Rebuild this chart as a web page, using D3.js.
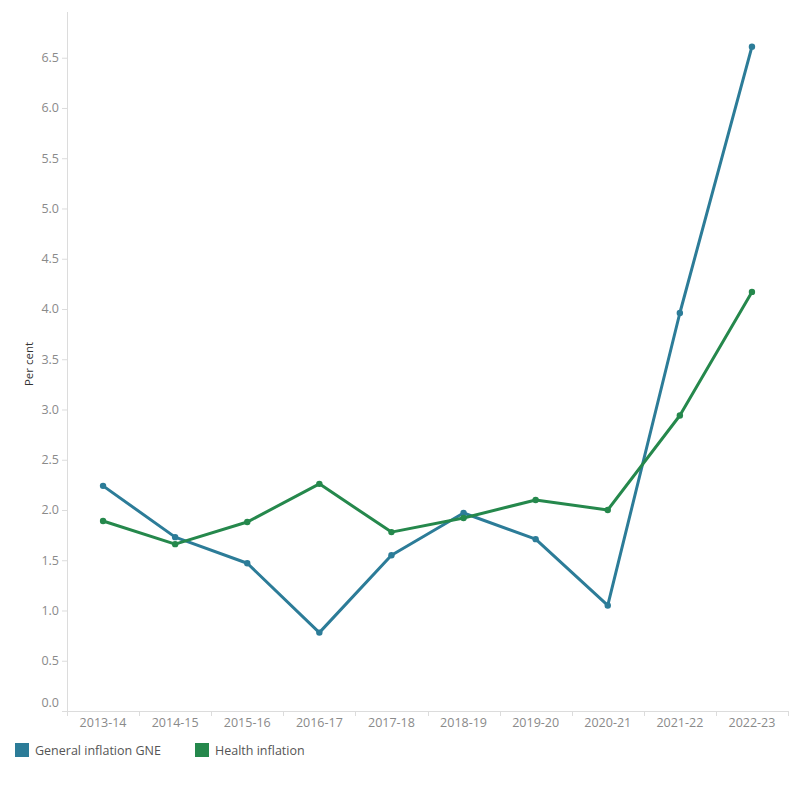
<!DOCTYPE html>
<html>
<head>
<meta charset="utf-8">
<script src="https://cdn.jsdelivr.net/npm/d3@7"></script>
<style>
  body { margin: 0; background: #fff; font-family: "Open Sans", sans-serif; }
  .axis text { fill: #8a8a8a; font-size: 12.5px; font-family: "Open Sans", sans-serif; }
  .axis line, .axis path { stroke: #dcdcdc; }
</style>
</head>
<body>
<svg id="chart" width="800" height="800"></svg>
<script>
const years = ["2013-14", "2014-15", "2015-16", "2016-17", "2017-18", "2018-19", "2019-20", "2020-21", "2021-22", "2022-23"];
const generalGNE = [2.24, 1.73, 1.47, 0.78, 1.55, 1.97, 1.71, 1.05, 3.96, 6.61];
const healthInflation = [1.89, 1.66, 1.88, 2.26, 1.78, 1.92, 2.10, 2.00, 2.94, 4.17];
const yTicks = [0, 0.5, 1, 1.5, 2, 2.5, 3, 3.5, 4, 4.5, 5, 5.5, 6, 6.5];

const series = [
  { name: "General inflation GNE", values: generalGNE, color: "#2c7c98" },
  { name: "Health inflation", values: healthInflation, color: "#25884c" }
];

const svg = d3.select("#chart");
const plotLeft = 67, plotRight = 788, plotTop = 12, plotBottom = 711;

const x = d3.scaleBand().domain(years).range([plotLeft, plotRight]);
const y = d3.scaleLinear().domain([0, 6.955]).range([plotBottom, plotTop]);

// x axis
const xAxis = svg.append("g")
  .attr("class", "axis")
  .attr("transform", `translate(0,${plotBottom})`)
  .call(d3.axisBottom(x).tickSize(0).tickPadding(7));
xAxis.select(".domain").remove();
xAxis.append("line")
  .attr("x1", plotLeft).attr("x2", plotRight)
  .attr("y1", 0.5).attr("y2", 0.5);
// boundary ticks between bands
xAxis.selectAll(".sep")
  .data(years.concat(["end"]))
  .join("line")
  .attr("class", "sep")
  .attr("x1", (d, i) => Math.round(plotLeft + i * x.step()) + 0.5)
  .attr("x2", (d, i) => Math.round(plotLeft + i * x.step()) + 0.5)
  .attr("y1", 0).attr("y2", 5);

// y axis
const yAxis = svg.append("g")
  .attr("class", "axis")
  .attr("transform", `translate(${plotLeft},0)`)
  .call(d3.axisLeft(y).tickValues(yTicks).tickFormat(d3.format(".1f")).tickSize(5).tickPadding(3));
yAxis.select(".domain").remove();
yAxis.append("line")
  .attr("x1", 0.5).attr("x2", 0.5)
  .attr("y1", plotTop).attr("y2", plotBottom + 5);
yAxis.selectAll(".tick")
  .filter(d => d === 0)
  .select("text")
  .attr("dy", "-0.35em");

svg.append("text")
  .attr("transform", "translate(33,364) rotate(-90)")
  .attr("text-anchor", "middle")
  .attr("font-size", 11.5)
  .attr("fill", "#333")
  .text("Per cent");

const line = d3.line()
  .x((d, i) => x(years[i]) + x.bandwidth() / 2)
  .y(d => y(d));

series.forEach(s => {
  svg.append("path")
    .datum(s.values)
    .attr("fill", "none")
    .attr("stroke", s.color)
    .attr("stroke-width", 3)
    .attr("stroke-linejoin", "round")
    .attr("d", line);
  svg.selectAll(null)
    .data(s.values)
    .join("circle")
    .attr("cx", (d, i) => x(years[i]) + x.bandwidth() / 2)
    .attr("cy", d => y(d))
    .attr("r", 3.2)
    .attr("fill", s.color);
});

// legend
const legend = svg.append("g").attr("transform", "translate(15,743)");
const legendX = [0, 180];
series.forEach((s, i) => {
  const g = legend.append("g").attr("transform", `translate(${legendX[i]},0)`);
  g.append("rect").attr("width", 14).attr("height", 14).attr("fill", s.color);
  g.append("text")
    .attr("x", 20).attr("y", 11.5)
    .attr("font-size", 12.5)
    .attr("fill", "#555")
    .text(s.name);
});
</script>
</body>
</html>
